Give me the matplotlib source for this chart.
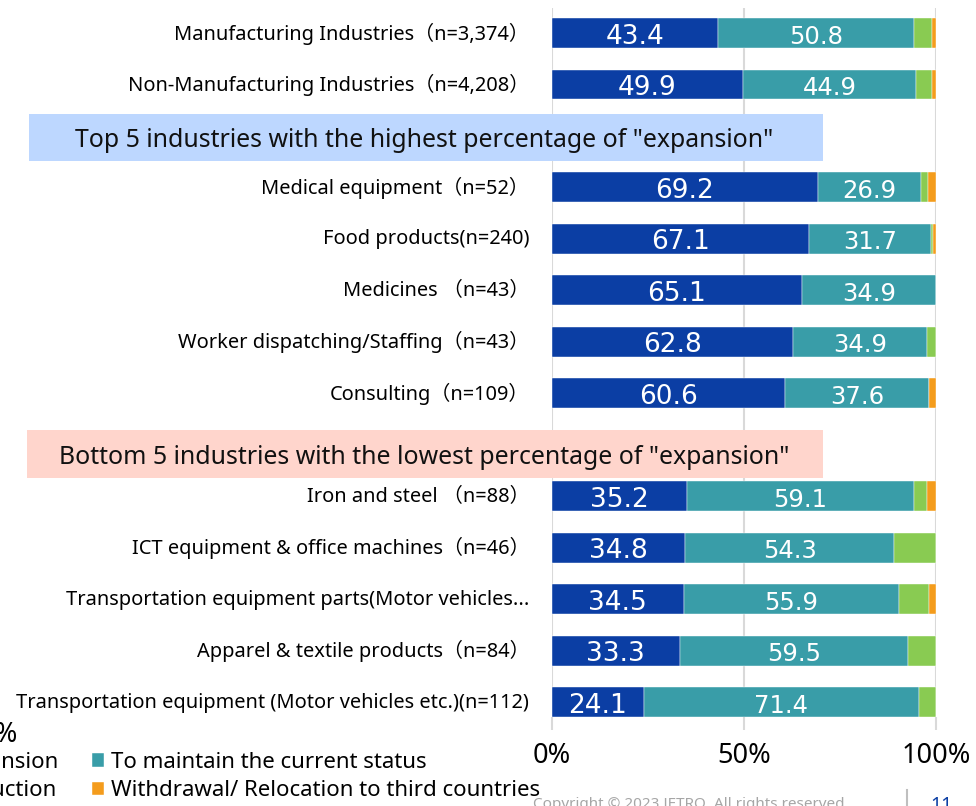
import matplotlib
matplotlib.use('Agg')
import matplotlib.pyplot as plt
from matplotlib.patches import Rectangle
from matplotlib.lines import Line2D
from matplotlib.transforms import ScaledTranslation

# ---------------- data ----------------
categories = [
    "Manufacturing Industries（n=3,374）",
    "Non-Manufacturing Industries（n=4,208）",
    "Medical equipment（n=52）",
    "Food products(n=240)",
    "Medicines （n=43）",
    "Worker dispatching/Staffing（n=43）",
    "Consulting（n=109）",
    "Iron and steel （n=88）",
    "ICT equipment & office machines（n=46）",
    "Transportation equipment parts(Motor vehicles...",
    "Apparel & textile products（n=84）",
    "Transportation equipment (Motor vehicles etc.)(n=112)",
]
row_slots = [0, 1, 3, 4, 5, 6, 7, 9, 10, 11, 12, 13]
expansion = [43.4, 49.9, 69.2, 67.1, 65.1, 62.8, 60.6, 35.2, 34.8, 34.5, 33.3, 24.1]
maintain = [50.8, 44.9, 26.9, 31.7, 34.9, 34.9, 37.6, 59.1, 54.3, 55.9, 59.5, 71.4]
reduction = [4.8, 4.1, 1.9, 0.4, 0.0, 2.3, 0.0, 3.4, 10.9, 7.8, 7.1, 4.5]
withdrawal = [1.0, 1.0, 1.9, 0.8, 0.0, 0.0, 1.8, 2.3, 0.0, 1.8, 0.0, 0.0]
series_names = ["Expansion", "To maintain the current status",
                "Reduction", "Withdrawal/ Relocation to third countries"]
headers = ['Top 5 industries with the highest percentage of "expansion"',
           'Bottom 5 industries with the lowest percentage of "expansion"']
xticks = [0, 50, 100]
xtick_labels = ["0%", "50%", "100%"]

# ---------------- style ----------------
colors = ["#0B3EA4", "#399DA8", "#89CB52", "#F49C1C"]
header_colors = ["#BDD7FF", "#FFD5CC"]
grid_color = "#D9D9D9"
TXT = ['Noto Sans', 'Noto Sans CJK JP', 'DejaVu Sans']
plt.rcParams['font.family'] = TXT

W, H = 976, 806
fig = plt.figure(figsize=(W / 100, H / 100), dpi=100)

def fx(px):
    return px / W

def fy(py):
    return 1 - py / H

ax_left, ax_right, ax_top, ax_bottom = 551.5, 936.0, 8.0, 717.0
ax = fig.add_axes([fx(ax_left), fy(ax_bottom), fx(ax_right - ax_left),
                   (ax_bottom - ax_top) / H])

series = [expansion, maintain, reduction, withdrawal]
left = [0.0] * len(categories)
containers = []
for vals, c, name in zip(series, colors, series_names):
    bc = ax.barh(row_slots, vals, left=left, height=0.58, color=c,
                 edgecolor='white', linewidth=0.3, label=name, zorder=3)
    containers.append(bc)
    left = [l + v for l, v in zip(left, vals)]

for bc, vals, fs in zip(containers[:2], series[:2], [19, 17.5]):
    texts = ax.bar_label(bc, labels=[f"{v:.1f}" for v in vals], label_type='center',
                         color='white', fontsize=fs, family='DejaVu Sans', zorder=4)
    for t in texts:
        t.xyann = (0, -2.6)

ax.set_xlim(0, 100)
ax.set_ylim(13.29, -0.486)
ax.set_xticks(xticks)
ax.set_xticklabels(xtick_labels, fontsize=19.5)
ax.set_yticks(row_slots)
ax.set_yticklabels(categories, fontsize=14.4)
ax.tick_params(axis='y', length=0, pad=16)
ax.tick_params(axis='x', length=9, width=1.5, color=grid_color, pad=9)
up = ScaledTranslation(0, 2 / 100, fig.dpi_scale_trans)
for lbl in ax.get_yticklabels():
    lbl.set_transform(lbl.get_transform() + up)
ax.grid(axis='x', color=grid_color, linewidth=1.5, zorder=0)
ax.set_axisbelow(True)
for s in ax.spines.values():
    s.set_visible(False)

# header boxes
boxes = [(29, 823, 114, 161), (27, 823, 430, 478)]
for (x0, x1, y0, y1), txt, col in zip(boxes, headers, header_colors):
    fig.patches.append(Rectangle((fx(x0), fy(y1)), fx(x1 - x0), (y1 - y0) / H,
                                 transform=fig.transFigure, facecolor=col,
                                 edgecolor='none', zorder=5))
    fig.text(fx(424), fy((y0 + y1) / 2 + 3), txt, ha='center', va='center',
             fontsize=17.9, color='#111111', zorder=6)

# legend (left column cut off by the slide edge)
order = [0, 2, 1, 3]
handles = [containers[i] for i in order]
labels = [series_names[i] for i in order]
leg = fig.legend(handles, labels, ncol=2, loc='upper left',
                 bbox_to_anchor=(0.0, 0.1), frameon=False, fontsize=16,
                 handlelength=0.55, handleheight=0.55, handletextpad=0.3,
                 columnspacing=1.5, labelspacing=0.33, borderaxespad=0)
fig.canvas.draw()
r = fig.canvas.get_renderer()
hb = leg.legend_handles[2].get_window_extent(r)
dx = 92 - hb.x0
dy = (H - 760) - (hb.y0 + hb.y1) / 2
leg.set_bbox_to_anchor((0.0 + dx / W, 0.1 + dy / H), transform=fig.transFigure)

# cut-off remnants at the slide edges
fig.text(fx(18), fy(735), "100%", ha='right', va='center', fontsize=19.5)
fig.text(fx(533), fy(797), "Copyright © 2023 JETRO. All rights reserved.",
         ha='left', va='top', fontsize=11, color='#A6A6A6')
fig.add_artist(Line2D([fx(907), fx(907)], [fy(790), fy(806)],
                      transform=fig.transFigure, color='#BFBFBF', linewidth=1.5))
fig.text(fx(930), fy(796), "11", ha='left', va='top', fontsize=14,
         color='#0B3EA4', fontweight='bold')

fig.savefig('out.png', dpi=100)
